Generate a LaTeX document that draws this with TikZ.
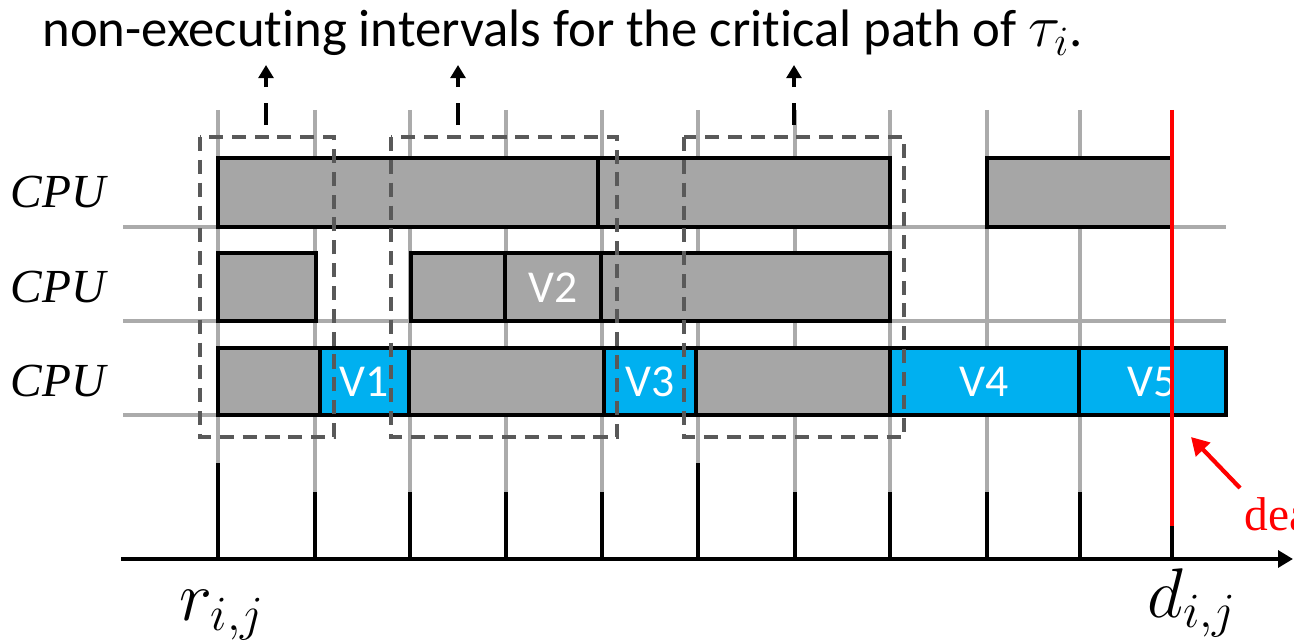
\RequirePackage{fix-cm}
\documentclass[tikz,border=0pt]{standalone}
\usepackage{fontspec}
\setmainfont{Carlito}[Ligatures=NoCommon]
\newfontfamily\cpufont{Liberation Serif}
\usetikzlibrary{arrows.meta}
\definecolor{barg}{HTML}{A6A6A6}
\definecolor{vblue}{HTML}{00B0F0}
\definecolor{gridg}{HTML}{ABABAB}
\definecolor{dashg}{HTML}{595959}
\begin{document}
\begin{tikzpicture}[x=0.02cm,y=-0.02cm,
  gridline/.style={draw=gridg,line width=2pt},
  bar/.style={draw=black,fill=barg,line width=2.3pt},
  vbar/.style={draw=black,fill=vblue,line width=2.3pt},
  vlabel/.style={text=white,inner sep=0pt,font=\fontsize{26}{30}\selectfont},
  cpulabel/.style={inner sep=0pt,font=\cpufont\itshape\fontsize{27}{32}\selectfont},
  interval/.style={draw=dashg,line width=2pt,dash pattern=on 8pt off 5pt},
  uparrow/.style={line width=2.4pt,dash pattern=on 12.5pt off 9pt,-{Triangle[width=8.5pt,length=7.5pt]}},
  tickline/.style={draw=black,line width=2.2pt},
  timeaxis/.style={draw=black,line width=2.6pt,-{Triangle[width=9.5pt,length=8.5pt]}},
  redline/.style={draw=red,line width=2pt},
  redarrow/.style={draw=red,line width=2.4pt,-{Triangle[width=11pt,length=10pt]}},
  mathlabel/.style={anchor=base,inner sep=0pt,font=\fontsize{40}{44}\selectfont}]
\useasboundingbox (0,0) rectangle (1294,642);
\clip (0,0) rectangle (1294,642);
% vertical grid lines
\foreach \x in {218,315,410,506,602,698,795,890,987,1080}
  \draw[gridline] (\x,110) -- (\x,492);
% horizontal grid lines
\foreach \y in {227,321,415}
  \draw[gridline] (123,\y) -- (1226,\y);
% row 1
\draw[bar] (218,158) rectangle (598,227);
\draw[bar] (598,158) rectangle (890,227);
\draw[bar] (987,158) rectangle (1172,227);
% row 2
\draw[bar] (218,253) rectangle (316,321);
\draw[bar] (411,253) rectangle (505,321);
\draw[bar] (505,253) rectangle (601,321);
\draw[bar] (601,253) rectangle (890,321);
% row 3
\draw[bar] (218,348) rectangle (320,415);
\draw[vbar] (320,348) rectangle (409,415);
\draw[bar] (409,348) rectangle (604,415);
\draw[vbar] (604,348) rectangle (696,415);
\draw[bar] (696,348) rectangle (890,415);
\draw[vbar] (890,348) rectangle (1079,415);
\draw[vbar] (1079,348) rectangle (1226,415);
% labels in bars
\node[vlabel] (v1) at (364.5,382) {V1};
\node[vlabel] (v2) at (553,287.5) {V2};
\node[vlabel] (v3) at (650,382) {V3};
\node[vlabel] (v4) at (984.5,382) {V4};
\node[vlabel] (v5) at (1152.5,382) {V5};
% CPU labels
\node[cpulabel] (cpu1) at (58,192.5) {CPU};
\node[cpulabel] (cpu2) at (58,287) {CPU};
\node[cpulabel] (cpu3) at (58,381.5) {CPU};
% dashed interval boxes
\draw[interval] (200,137) rectangle (334,437);
\draw[interval] (391,137) rectangle (617,437);
\draw[interval] (684,137) rectangle (904,437);
% deadline red line
\draw[redline] (1172,110) -- (1172,526);
% ticks
\draw[tickline] (218,463) -- (218,559);
\draw[tickline] (698,463) -- (698,559);
\foreach \x in {315,410,506,602,795,890,987,1080}
  \draw[tickline] (\x,492) -- (\x,559);
\draw[tickline] (1172,526) -- (1172,559);
% time axis
\coordinate (axS) at (121,559);
\coordinate (axE) at (1293,559);
\draw[timeaxis] (axS) -- (axE);
% title and arrows
\node[anchor=base west,inner sep=0pt,font=\fontsize{30}{34}\selectfont] (title) at (42,47)
  {non-executing intervals for the critical path of {\fontsize{34}{38}\selectfont$\tau_i$}.};
\coordinate (a1s) at (266,125); \coordinate (a1e) at (266,65);
\coordinate (a2s) at (458,125); \coordinate (a2e) at (458,65);
\coordinate (a3s) at (794,125); \coordinate (a3e) at (794,65);
\draw[uparrow] (a1s) -- (a1e);
\draw[uparrow] (a2s) -- (a2e);
\draw[uparrow] (a3s) -- (a3e);
% deadline annotation
\node[anchor=base west,inner sep=0pt,text=red,font=\cpufont\fontsize{27}{32}\selectfont] (dl) at (1244,530) {deadline};
\coordinate (dlTail) at (1240,488);
\coordinate (dlTip) at (1191,437);
\draw[redarrow] (dlTail) -- (dlTip);
% time labels
\node[mathlabel] (r) at (222,620) {$r_{i,j}$};
\node[mathlabel] (d) at (1192,617) {$d_{i,j}$};
\end{tikzpicture}
\end{document}
